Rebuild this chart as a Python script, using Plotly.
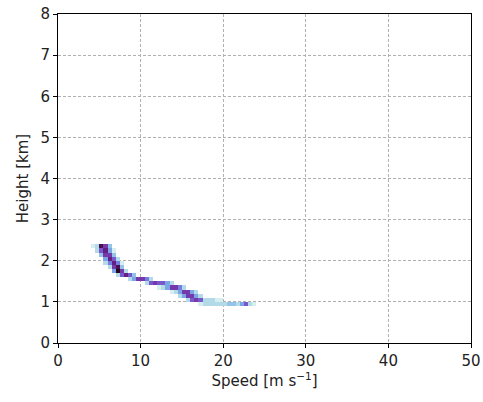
import numpy as np
import plotly.graph_objects as go

# Height rows (bin centres, km), left edge of first speed bin (m/s), counts per 0.5 m/s bin
row_heights = [2.35, 2.25, 2.15, 2.05, 1.95, 1.85, 1.75, 1.65, 1.55, 1.45, 1.35, 1.25, 1.15, 1.05, 0.95]
row_start_speed = [4.0, 4.5, 5.0, 5.5, 5.5, 6.0, 6.5, 7.0, 8.5, 10.5, 12.0, 13.5, 14.5, 15.5, 17.0]
row_counts = [
    [1, 2, 9, 7, 3],
    [2, 6, 8, 4, 1],
    [3, 7, 7, 3],
    [4, 8, 6, 2],
    [2, 5, 8, 5, 1],
    [2, 7, 9, 3],
    [4, 10, 7, 2],
    [2, 6, 8, 6, 3],
    [2, 4, 7, 7, 5, 2],
    [2, 6, 7, 6, 6, 4, 2],
    [1, 2, 4, 7, 7, 5, 2],
    [1, 2, 4, 7, 7, 4, 2],
    [2, 4, 7, 7, 4, 2],
    [2, 6, 7, 6, 2, 2, 2, 1, 1],
    [1, 2, 2, 2, 2, 2, 2, 3, 3, 2, 4, 6, 2, 1],
]
x_ticks = [0, 10, 20, 30, 40, 50]
y_ticks = [0, 1, 2, 3, 4, 5, 6, 7, 8]

dx, dy = 0.5, 0.1
x_centers = np.arange(0, 50, dx) + dx / 2
y_centers = np.round(np.arange(0, 8, dy) + dy / 2, 3)
z = np.full((len(y_centers), len(x_centers)), np.nan)
for h, s0, counts in zip(row_heights, row_start_speed, row_counts):
    iy = int(round((h - dy / 2) / dy))
    ix0 = int(round(s0 / dx))
    for k, c in enumerate(counts):
        z[iy, ix0 + k] = c

dense = [
    [0.0, '#d6eef0'], [0.12, '#b0d9e6'], [0.25, '#8cbde8'], [0.38, '#7398e6'],
    [0.5, '#7768da'], [0.62, '#7b44bd'], [0.78, '#622283'], [0.9, '#44104a'], [1.0, '#240820'],
]

fig = go.Figure(go.Heatmap(
    x=x_centers, y=y_centers, z=z, colorscale=dense, zmin=1, zmax=10,
    showscale=False, hoverongaps=False,
))

font = dict(family='DejaVu Sans', size=15, color='#222')
axis_common = dict(
    showline=True, linecolor='black', linewidth=1, mirror=True,
    ticks='outside', ticklen=4, tickcolor='black',
    showgrid=True, gridcolor='#b0b0b0', griddash='3px,2px', gridwidth=1,
    zeroline=False, tickfont=font, automargin=False,
)
fig.update_xaxes(range=[0, 50], tickvals=x_ticks, **axis_common,
                 title=dict(text='Speed [m s<sup>−1</sup>]', font=font, standoff=6))
fig.update_yaxes(range=[0, 8], tickvals=y_ticks, **axis_common,
                 title=dict(text='Height [km]', font=font, standoff=8))
fig.update_layout(
    width=483, height=402, margin=dict(l=58, r=12, t=14, b=59),
    plot_bgcolor='white', paper_bgcolor='white',
)
# remove the default page body margin so the figure sits at the window's corner
fig.write_html('out.html', config={'displayModeBar': False},
               post_script="document.body.style.margin='0';")
